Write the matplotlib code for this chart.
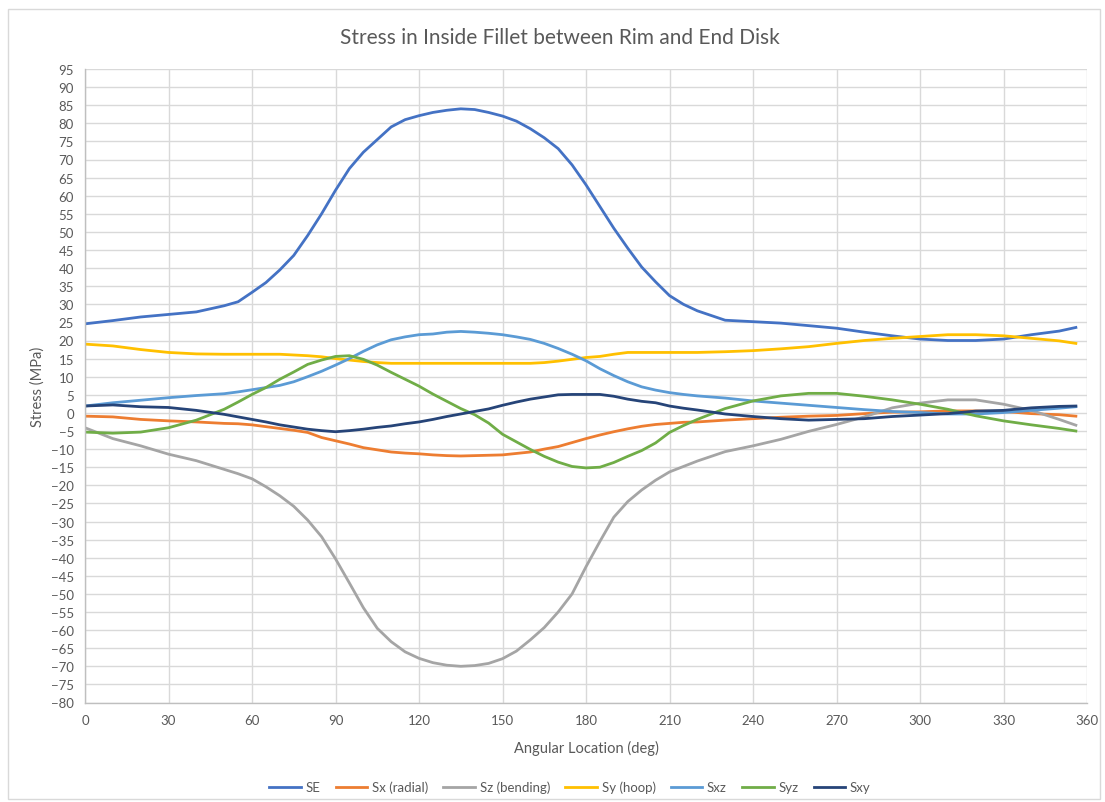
import matplotlib
matplotlib.use("Agg")
import matplotlib.pyplot as plt
from matplotlib.patches import Rectangle

plt.rcParams['font.family'] = ['Lato', 'DejaVu Sans']

angles = [0, 10, 20, 30, 40, 50, 55, 60, 65, 70, 75, 80, 85, 90, 95, 100, 105, 110, 115, 120,
          125, 130, 135, 140, 145, 150, 155, 160, 165, 170, 175, 180, 185, 190, 195, 200,
          205, 210, 215, 220, 230, 240, 250, 260, 270, 280, 290, 300, 310, 320, 330, 340, 350, 356]

SE = [24.6, 25.5, 26.5, 27.2, 27.9, 29.6, 30.7, 33.3, 36.0, 39.5, 43.5, 49.0, 55.0, 61.5, 67.5, 72.0,
      75.5, 79.0, 81.0, 82.1, 83.0, 83.6, 84.0, 83.8, 83.0, 82.0, 80.6, 78.5, 76.0, 73.0, 68.5, 63.0,
      57.0, 51.0, 45.5, 40.3, 36.2, 32.4, 30.0, 28.2, 25.6, 25.2, 24.8, 24.1, 23.4, 22.3, 21.3, 20.4,
      20.0, 20.0, 20.4, 21.6, 22.6, 23.6]

Sx = [-0.9, -1.1, -1.8, -2.2, -2.5, -2.9, -3.0, -3.3, -3.8, -4.3, -4.8, -5.4, -6.8, -7.7, -8.6, -9.6,
      -10.2, -10.8, -11.1, -11.3, -11.6, -11.8, -11.9, -11.8, -11.7, -11.6, -11.2, -10.8, -10.0, -9.3,
      -8.2, -7.1, -6.1, -5.2, -4.4, -3.7, -3.2, -2.9, -2.6, -2.5, -2.0, -1.6, -1.2, -0.9, -0.7, -0.2,
      0.2, 0.3, 0.55, 0.55, 0.4, -0.2, -0.5, -0.9]

Sz = [-4.1, -7.1, -9.1, -11.4, -13.2, -15.6, -16.8, -18.2, -20.4, -22.9, -25.8, -29.6, -34.2, -40.3,
      -47.0, -53.8, -59.5, -63.2, -66.0, -67.8, -69.0, -69.7, -70.0, -69.8, -69.2, -67.9, -65.8, -62.7,
      -59.3, -55.0, -50.0, -42.5, -35.5, -28.8, -24.5, -21.3, -18.6, -16.3, -14.8, -13.3, -10.7, -9.1,
      -7.3, -5.1, -3.2, -1.1, 1.4, 2.7, 3.6, 3.6, 2.4, 0.7, -1.8, -3.4]

Sy = [19.0, 18.5, 17.5, 16.7, 16.3, 16.2, 16.2, 16.2, 16.2, 16.2, 16.0, 15.8, 15.5, 15.0, 14.6, 14.2,
      13.9, 13.7, 13.7, 13.7, 13.7, 13.7, 13.7, 13.7, 13.7, 13.7, 13.7, 13.7, 13.9, 14.3, 14.8, 15.3,
      15.6, 16.2, 16.7, 16.7, 16.7, 16.7, 16.7, 16.7, 16.9, 17.2, 17.7, 18.3, 19.2, 20.0, 20.6, 21.1,
      21.6, 21.6, 21.3, 20.6, 19.9, 19.2]

Sxz = [1.9, 2.8, 3.5, 4.2, 4.8, 5.3, 5.8, 6.4, 7.0, 7.6, 8.6, 10.0, 11.5, 13.2, 15.0, 17.0, 18.8, 20.2,
       21.0, 21.6, 21.8, 22.3, 22.5, 22.3, 22.0, 21.6, 21.0, 20.3, 19.2, 17.8, 16.2, 14.4, 12.2, 10.3,
       8.6, 7.2, 6.3, 5.6, 5.1, 4.7, 4.1, 3.3, 2.7, 2.1, 1.5, 0.9, 0.4, 0.1, -0.3, -0.3, 0.1, 0.7, 1.3, 1.7]

Syz = [-5.3, -5.6, -5.3, -4.1, -2.0, 1.0, 3.0, 5.1, 7.0, 9.3, 11.3, 13.4, 14.6, 15.6, 15.8, 14.8, 13.2,
       11.2, 9.3, 7.4, 5.2, 3.2, 1.2, -0.5, -2.8, -5.9, -8.0, -10.1, -12.0, -13.6, -14.8, -15.2, -15.0,
       -13.7, -12.0, -10.4, -8.3, -5.4, -3.5, -1.8, 1.2, 3.3, 4.7, 5.4, 5.4, 4.6, 3.6, 2.4, 1.0, -0.8,
       -2.2, -3.3, -4.3, -5.0]

Sxy = [1.9, 2.2, 1.7, 1.5, 0.7, -0.4, -1.1, -1.8, -2.5, -3.3, -3.9, -4.5, -4.9, -5.2, -4.9, -4.5, -4.0,
       -3.6, -3.0, -2.5, -1.8, -1.0, -0.3, 0.4, 1.1, 2.1, 3.0, 3.8, 4.4, 5.0, 5.1, 5.1, 5.1, 4.6, 3.8,
       3.2, 2.8, 1.9, 1.3, 0.8, -0.3, -1.0, -1.6, -2.0, -1.8, -1.6, -1.0, -0.6, -0.2, 0.5, 0.7, 1.4, 1.8, 1.9]

series_names = ["SE", "Sx (radial)", "Sz (bending)", "Sy (hoop)", "Sxz", "Syz", "Sxy"]
series_values = [SE, Sx, Sz, Sy, Sxz, Syz, Sxy]
colors = ["#4472C4", "#ED7D31", "#A5A5A5", "#FFC000", "#5B9BD5", "#70AD47", "#264478"]

x_ticks = list(range(0, 361, 30))
y_ticks = list(range(-80, 96, 5))

W, H = 1105, 803
fig = plt.figure(figsize=(W / 100, H / 100), dpi=100)
fig.patches.append(Rectangle((8 / W, 3 / H), (W - 13) / W, (H - 13) / H, transform=fig.transFigure,
                             fill=False, edgecolor="#D9D9D9", linewidth=1.0))

ax = fig.add_axes([85 / W, (H - 703.5) / H, (1087 - 85) / W, (703.5 - 70) / H])
for name, vals, c in zip(series_names, series_values, colors):
    ax.plot(angles, vals, color=c, linewidth=2.0, label=name, solid_joinstyle="round")

ax.set_xlim(0, 360)
ax.set_ylim(-80, 95)
ax.set_xticks(x_ticks)
ax.set_yticks(y_ticks)
ax.grid(True, color="#D9D9D9", linewidth=1.0)
ax.set_axisbelow(True)
for s in ["top", "right"]:
    ax.spines[s].set_visible(False)
for s in ["left", "bottom"]:
    ax.spines[s].set_color("#BFBFBF")
    ax.spines[s].set_linewidth(1.0)
ax.tick_params(axis="both", length=0, labelsize=9.5, colors="#595959", pad=8)

ax.set_xlabel("Angular Location (deg)", fontsize=10.5, color="#595959", labelpad=10)
ax.set_ylabel("Stress (MPa)", fontsize=10.5, color="#595959", labelpad=4)
fig.text(560 / W, (H - 38) / H, "Stress in Inside Fillet between Rim and End Disk", ha="center",
         va="center", fontsize=15, color="#595959")

leg = fig.legend(loc="center", bbox_to_anchor=(570 / W, (H - 788) / H), ncol=7, frameon=False,
                 fontsize=9.5, handlelength=2.4, columnspacing=1.15, handletextpad=0.35)
for t in leg.get_texts():
    t.set_color("#595959")

fig.savefig("out.png", dpi=100)
